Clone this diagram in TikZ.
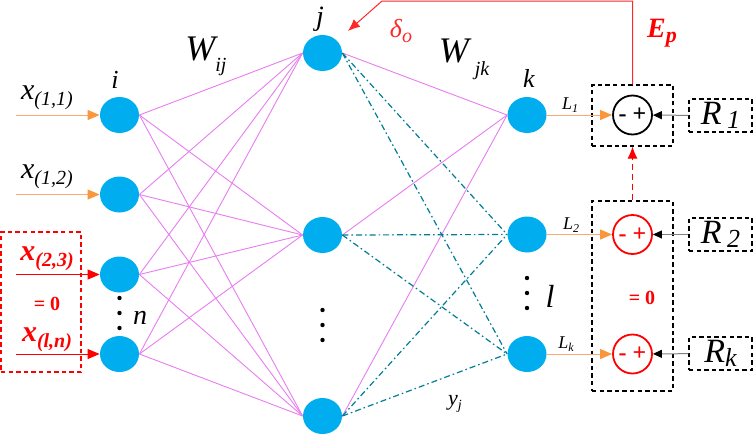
\documentclass[tikz,border=0pt]{standalone}
\usepackage{fontspec}
\setmainfont{Liberation Serif}
\usetikzlibrary{arrows.meta,shapes.geometric}
\definecolor{cellblue}{RGB}{0,174,239}
\definecolor{wpink}{RGB}{232,125,240}
\definecolor{wteal}{RGB}{0,125,150}
\definecolor{inorange}{RGB}{250,170,110}
\definecolor{tiporange}{RGB}{250,150,60}
\definecolor{errred}{RGB}{255,40,40}
\newcommand{\fs}[1]{\fontsize{#1}{#1}\selectfont}
\begin{document}
\begin{tikzpicture}[x=0.5pt,y=-0.5pt,
    neuron/.style={ellipse,fill=cellblue,minimum width=19.5pt,minimum height=18pt,inner sep=0pt},
    sumnode/.style={circle,draw,line width=0.9pt,minimum size=19.5pt,inner sep=0pt,font=\rmfamily\fs{12}\bfseries},
    dbox/.style={draw,dash pattern=on 2.2pt off 1.6pt,line width=0.6pt,inner sep=0pt},
    lab/.style={inner sep=0pt},
    wire/.style={wpink,line width=0.45pt},
    dwire/.style={wteal,line width=0.6pt,dash pattern=on 3pt off 1.5pt on 0.8pt off 1.5pt},
    inwire/.style={inorange,line width=0.5pt,-{Triangle[width=5pt,length=6pt,color=tiporange]}},
    zerowire/.style={red,line width=0.5pt,-{Triangle[width=5pt,length=6pt]}},
    refwire/.style={gray,line width=0.5pt,-{Triangle[width=4pt,length=4.5pt,color=black]}}
  ]
  \useasboundingbox (0,0) rectangle (754,434);

  % layers
  \node[neuron] (i1) at (119.5,115) {};
  \node[neuron] (i2) at (119.5,194.5) {};
  \node[neuron] (i3) at (119.5,274.5) {};
  \node[neuron] (i4) at (119.5,354) {};
  \node[neuron] (j1) at (322.5,53) {};
  \node[neuron] (j2) at (322.5,235) {};
  \node[neuron] (j3) at (322.5,416) {};
  \node[neuron] (k1) at (527,115) {};
  \node[neuron] (k2) at (527,234.5) {};
  \node[neuron] (k3) at (527,354) {};

  % error blocks
  \node[sumnode] (s1) at (632.5,115) {- +};
  \node[sumnode,red] (s2) at (632.5,234.5) {- +};
  \node[sumnode,red] (s3) at (632.5,354) {- +};
  \node[dbox,minimum width=40.5pt,minimum height=30.5pt] (b1) at (632.5,115.5) {};
  \node[dbox,minimum width=40.5pt,minimum height=95pt] (b2) at (632.5,296) {};
  \node[dbox,red,minimum width=40pt,minimum height=70pt] (b0) at (41,302) {};
  \node[dbox,minimum width=31.5pt,minimum height=16.5pt,font=\rmfamily\fs{17}\itshape] (r1) at (720.5,115.5) {R\,\raisebox{-2pt}{\fs{13}1}};
  \node[dbox,minimum width=31.5pt,minimum height=16.5pt,font=\rmfamily\fs{17}\itshape] (r2) at (720.5,234.5) {R\,\raisebox{-2pt}{\fs{13}2}};
  \node[dbox,minimum width=31.5pt,minimum height=16.5pt,font=\rmfamily\fs{17}\itshape] (r3) at (720.5,353.5) {R\raisebox{-2pt}{\fs{13}k}};

  % free ends
  \coordinate (x1) at (16,115);
  \coordinate (x2) at (16,194.5);
  \coordinate (x3) at (16,274.5);
  \coordinate (x4) at (16,354);
  \coordinate (c1) at (632.5,1);
  \coordinate (c2) at (382,1);
  \coordinate (c3) at (348,31);

  % labels
  \node[lab,font=\rmfamily\fs{13}\itshape] (li) at (115,80) {i};
  \node[lab,font=\rmfamily\fs{14}\itshape] (lj) at (320,19) {j};
  \node[lab,font=\rmfamily\fs{13}\itshape] (lk) at (529,78) {k};
  \node[lab,font=\rmfamily\fs{14}\itshape] (ln) at (140,318) {n};
  \node[lab,font=\rmfamily\fs{16}\itshape] (ll) at (550,296) {l};
  \node[lab,font=\rmfamily\fs{18}\itshape] (wij) at (206,56) {W\raisebox{-5.5pt}{\fs{10}ij}};
  \node[lab,font=\rmfamily\fs{18}\itshape] (wjk) at (464,59) {W\,\raisebox{-6.5pt}{\fs{10}jk}};
  \node[lab,font=\rmfamily\fs{13}\itshape,errred] (ld) at (401,31) {δ\raisebox{-2.5pt}{\fs{10}o}};
  \node[lab,font=\rmfamily\fs{14}\bfseries\itshape,red] (lep) at (662,33) {E\raisebox{-2.5pt}{\fs{11}p}};
  \node[lab,font=\rmfamily\fs{11}\itshape] (ly) at (455,404) {y\raisebox{-2pt}{\fs{7}j}};
  \node[lab,font=\rmfamily\fs{9}\itshape] (l1) at (570,105) {L\raisebox{-1.5pt}{\fs{6}1}};
  \node[lab,font=\rmfamily\fs{9}\itshape] (l2) at (571,225) {L\raisebox{-1.5pt}{\fs{6}2}};
  \node[lab,font=\rmfamily\fs{9}\itshape] (l3) at (566,344) {L\raisebox{-1.5pt}{\fs{6}k}};
  \node[lab,font=\rmfamily\fs{15}\itshape] (lx1) at (47,98) {x\raisebox{-3pt}{\fs{10}(1,1)}};
  \node[lab,font=\rmfamily\fs{15}\itshape] (lx2) at (47,177) {x\raisebox{-3pt}{\fs{10}(1,2)}};
  \node[lab,font=\rmfamily\fs{15}\bfseries\itshape,red] (lx3) at (47,259) {x\raisebox{-3pt}{\fs{10}(2,3)}};
  \node[lab,font=\rmfamily\fs{15}\bfseries\itshape,red] (lx4) at (47,340) {x\raisebox{-3pt}{\fs{10}(l,n)}};
  \node[lab,font=\rmfamily\fs{10}\bfseries,red] (z1) at (47,304) {= 0};
  \node[lab,font=\rmfamily\fs{10}\bfseries,red] (z2) at (642,298) {= 0};

  % dots
  \fill (119.5,298) circle (1.1pt) (119.5,313) circle (1.1pt) (119.5,328) circle (1.1pt);
  \fill (322.5,310) circle (1.1pt) (322.5,325) circle (1.1pt) (322.5,340) circle (1.1pt);
  \fill (527,278) circle (1.1pt) (527,293) circle (1.1pt) (527,308) circle (1.1pt);

  \begin{scope}[wire]
    \draw (i1.east) -- (j1.west);
    \draw (i1.east) -- (j2.west);
    \draw (i1.east) -- (j3.west);
    \draw (i2.east) -- (j1.west);
    \draw (i2.east) -- (j2.west);
    \draw (i2.east) -- (j3.west);
    \draw (i3.east) -- (j1.west);
    \draw (i3.east) -- (j2.west);
    \draw (i3.east) -- (j3.west);
    \draw (i4.east) -- (j1.west);
    \draw (i4.east) -- (j2.west);
    \draw (i4.east) -- (j3.west);
    \draw (j1.east) -- (k1.west);
    \draw (j2.east) -- (k1.west);
    \draw (j3.east) -- (k1.west);
  \end{scope}
  \begin{scope}[dwire]
    \draw (j1.east) -- (k2.west);
    \draw (j1.east) -- (k3.west);
    \draw (j2.east) -- (k2.west);
    \draw (j2.east) -- (k3.west);
    \draw (j3.east) -- (k2.west);
    \draw (j3.east) -- (k3.west);
  \end{scope}

  % inputs and outputs
  \draw[inwire] (x1) -- (i1);
  \draw[inwire] (x2) -- (i2);
  \draw[zerowire] (x3) -- (i3);
  \draw[zerowire] (x4) -- (i4);
  \draw[inwire] (k1) -- (s1);
  \draw[inwire] (k2) -- (s2);
  \draw[inwire] (k3) -- (s3);
  \draw[refwire] (r1) -- (s1);
  \draw[refwire] (r2) -- (s2);
  \draw[refwire] (r3) -- (s3);

  % error feedback
  \draw[errred,line width=0.5pt,-{Latex[width=5pt,length=6pt]}] (b1.north) -- (c1) -- (c2) -- (c3);
  \draw[red,line width=0.5pt,dash pattern=on 3pt off 2pt,-{Latex[width=5pt,length=6pt]}] (b2.north) -- (b1.south);
\end{tikzpicture}
\end{document}
